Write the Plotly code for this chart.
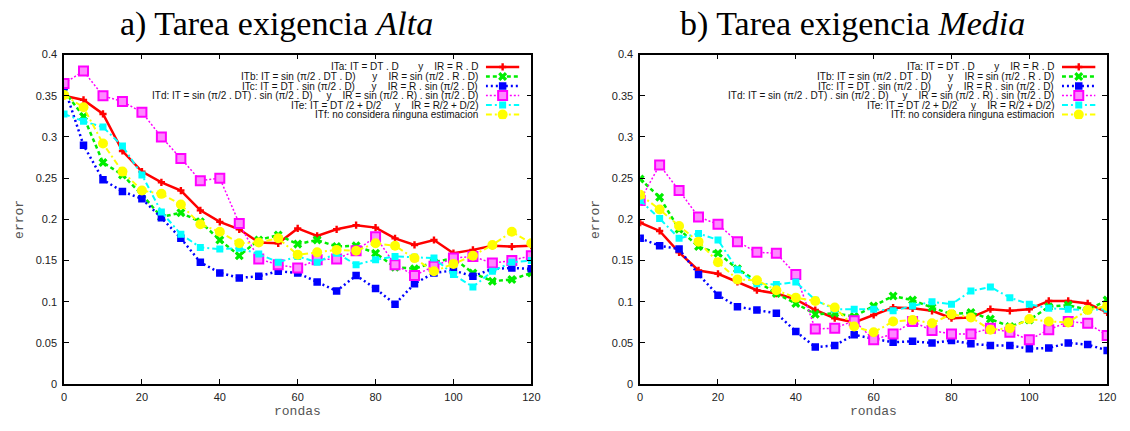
import plotly.graph_objects as go

W, H = 1130, 431

rondas = list(range(0, 121, 5))
x_ticks = [0, 20, 40, 60, 80, 100, 120]
y_ticks = [0, 0.05, 0.1, 0.15, 0.2, 0.25, 0.3, 0.35, 0.4]

# Tarea exigencia Alta
alta_ita = [0.350, 0.345, 0.328, 0.283, 0.258, 0.245, 0.235, 0.211, 0.197, 0.188, 0.172, 0.171, 0.189,
            0.180, 0.188, 0.193, 0.190, 0.177, 0.169, 0.175, 0.159, 0.163, 0.168, 0.167, 0.168]
alta_itb = [0.356, 0.325, 0.269, 0.254, 0.230, 0.203, 0.208, 0.197, 0.175, 0.156, 0.175, 0.181, 0.170,
            0.175, 0.167, 0.168, 0.159, 0.142, 0.140, 0.148, 0.153, 0.135, 0.125, 0.127, 0.135]
alta_itc = [0.361, 0.290, 0.248, 0.234, 0.225, 0.202, 0.177, 0.148, 0.135, 0.129, 0.131, 0.137, 0.135,
            0.124, 0.113, 0.132, 0.116, 0.097, 0.122, 0.135, 0.138, 0.131, 0.140, 0.141, 0.140]
alta_itd = [0.365, 0.380, 0.350, 0.343, 0.330, 0.300, 0.274, 0.247, 0.250, 0.195, 0.152, 0.145, 0.141,
            0.151, 0.152, 0.162, 0.179, 0.145, 0.132, 0.143, 0.153, 0.155, 0.147, 0.150, 0.156]
alta_ite = [0.328, 0.319, 0.312, 0.289, 0.254, 0.209, 0.182, 0.166, 0.164, 0.165, 0.158, 0.148, 0.155,
            0.148, 0.159, 0.145, 0.151, 0.155, 0.154, 0.153, 0.133, 0.118, 0.137, 0.148, 0.150]
alta_itf = [0.351, 0.336, 0.292, 0.258, 0.235, 0.231, 0.218, 0.194, 0.185, 0.171, 0.172, 0.177, 0.157,
            0.160, 0.163, 0.162, 0.171, 0.168, 0.153, 0.137, 0.146, 0.156, 0.169, 0.185, 0.171]

# Tarea exigencia Media
media_ita = [0.196, 0.186, 0.160, 0.138, 0.134, 0.124, 0.114, 0.110, 0.103, 0.090, 0.080, 0.075, 0.084,
             0.093, 0.092, 0.089, 0.080, 0.081, 0.091, 0.089, 0.091, 0.101, 0.101, 0.098, 0.087]
media_itb = [0.249, 0.227, 0.188, 0.167, 0.159, 0.140, 0.125, 0.110, 0.098, 0.085, 0.086, 0.082, 0.095,
             0.107, 0.102, 0.093, 0.085, 0.087, 0.079, 0.070, 0.078, 0.094, 0.096, 0.090, 0.102]
media_itc = [0.177, 0.168, 0.164, 0.133, 0.108, 0.094, 0.090, 0.086, 0.064, 0.045, 0.047, 0.060, 0.055,
             0.051, 0.052, 0.050, 0.053, 0.049, 0.047, 0.047, 0.043, 0.044, 0.050, 0.048, 0.041]
media_itd = [0.223, 0.266, 0.235, 0.203, 0.194, 0.173, 0.160, 0.159, 0.133, 0.067, 0.068, 0.077, 0.054,
             0.061, 0.076, 0.065, 0.061, 0.061, 0.068, 0.063, 0.054, 0.066, 0.076, 0.074, 0.059]
media_ite = [0.223, 0.201, 0.177, 0.183, 0.175, 0.139, 0.122, 0.121, 0.124, 0.102, 0.091, 0.091, 0.091,
             0.089, 0.095, 0.100, 0.097, 0.113, 0.118, 0.105, 0.097, 0.092, 0.091, 0.090, 0.091]
media_itf = [0.230, 0.212, 0.192, 0.173, 0.148, 0.127, 0.126, 0.114, 0.105, 0.101, 0.093, 0.070, 0.063,
             0.076, 0.078, 0.074, 0.085, 0.081, 0.066, 0.068, 0.079, 0.076, 0.075, 0.090, 0.095]

NB = "\u00a0"
legend_labels = [
    "ITa: IT = DT . D" + NB * 7 + "y" + NB * 4 + "IR = R . D",
    "ITb: IT = sin (\u03c0/2 . DT . D)" + NB * 6 + "y" + NB * 4 + "IR = sin (\u03c0/2 . R . D)",
    "ITc: IT = DT . sin (\u03c0/2 . D)" + NB * 6 + "y" + NB * 4 + "IR = R . sin (\u03c0/2 . D)",
    "ITd: IT = sin (\u03c0/2 . DT) . sin (\u03c0/2 . D)" + NB * 5 + "y" + NB * 4 + "IR = sin (\u03c0/2 . R) . sin (\u03c0/2 . D)",
    "ITe: IT = DT /2 + D/2" + NB * 5 + "y" + NB * 4 + "IR = R/2 + D/2)",
    "ITf: no considera ninguna estimacion",
]

titles = ["a) Tarea exigencia <i>Alta</i>", "b) Tarea exigencia <i>Media</i>"]

# line / marker style for each series
styles = [
    dict(line=dict(color="#ff0000", width=2.5, dash="solid"),
         marker=dict(symbol="cross", size=6, color="#ff0000")),
    dict(line=dict(color="#00ee00", width=2.5, dash="4px,3px"),
         marker=dict(symbol="x", size=8, color="#00ee00")),
    dict(line=dict(color="#0000ff", width=2.5, dash="2px,3px"),
         marker=dict(symbol="square", size=6, color="#0000ff",
                     line=dict(color="#0000ff", width=1.5))),
    dict(line=dict(color="#ff00ff", width=1.5, dash="2px,2px"),
         marker=dict(symbol="square", size=9, color="#ff88ff",
                     line=dict(color="#ff00ff", width=2))),
    dict(line=dict(color="#00ffff", width=2, dash="6px,3px,2px,3px"),
         marker=dict(symbol="square", size=7, color="#00ffff")),
    dict(line=dict(color="#ffff00", width=2, dash="6px,3px,2px,3px"),
         marker=dict(symbol="circle", size=10, color="#ffff00")),
]

panels = [
    [alta_ita, alta_itb, alta_itc, alta_itd, alta_ite, alta_itf],
    [media_ita, media_itb, media_itc, media_itd, media_ite, media_itf],
]

# pixel geometry of the two plot frames
plot_left = [61.7, 644.0]
plot_right = [534.0, 1116.0]
plot_top, plot_bottom = 50.0, 389.0

fig = go.Figure()

axis_font = dict(family="Liberation Sans, Arial, sans-serif", size=11, color="#222222")
annotations = []

for p, series in enumerate(panels):
    xa = "x" if p == 0 else "x2"
    ya = "y" if p == 0 else "y2"
    for vals, st in zip(series, styles):
        fig.add_trace(go.Scatter(
            x=rondas, y=vals, mode="lines+markers",
            line=st["line"], marker=st["marker"],
            xaxis=xa, yaxis=ya, showlegend=False, hoverinfo="skip",
        ))

    dom_x = [plot_left[p] / W, plot_right[p] / W]
    dom_y = [1 - plot_bottom / H, 1 - plot_top / H]
    common = dict(showline=True, linecolor="black", linewidth=1.5, mirror="allticks",
                  ticks="inside", ticklen=5, tickcolor="black", tickwidth=1,
                  showgrid=False, zeroline=False, tickfont=axis_font)
    xkey = "xaxis" if p == 0 else "xaxis2"
    ykey = "yaxis" if p == 0 else "yaxis2"
    fig.update_layout(**{
        xkey: dict(domain=dom_x, range=[0, 120], tickmode="array", tickvals=x_ticks,
                   anchor=ya, ticklabelstandoff=2, **common),
        ykey: dict(domain=dom_y, range=[0, 0.4], tickmode="array", tickvals=y_ticks,
                   anchor=xa, ticklabelstandoff=3, **common),
    })

    # legend samples drawn on a small overlay axis pair
    shift = plot_left[p] - plot_left[0]
    lx0 = (488.0 + shift) / W
    lx1 = (522.0 + shift) / W
    row0, row_step = 62.7, 9.8
    ly_top = 1 - (row0 - row_step / 2) / H
    ly_bot = 1 - (row0 + row_step * 5.5) / H
    lxn = 3 + 2 * p
    lyn = 4 + 2 * p
    fig.update_layout(**{
        f"xaxis{lxn}": dict(domain=[lx0, lx1], range=[0, 1], visible=False,
                            anchor=f"y{lyn}", fixedrange=True),
        f"yaxis{lyn}": dict(domain=[ly_bot, ly_top], range=[5.5, -0.5], visible=False,
                            anchor=f"x{lxn}", fixedrange=True),
    })
    for i, st in enumerate(styles):
        fig.add_trace(go.Scatter(x=[0, 1], y=[i, i], mode="lines", line=st["line"],
                                 xaxis=f"x{lxn}", yaxis=f"y{lyn}",
                                 showlegend=False, hoverinfo="skip"))
        fig.add_trace(go.Scatter(x=[0.5], y=[i], mode="markers", marker=st["marker"],
                                 xaxis=f"x{lxn}", yaxis=f"y{lyn}",
                                 showlegend=False, hoverinfo="skip"))
        annotations.append(dict(
            x=(481.7 + shift) / W, y=1 - (row0 + row_step * i) / H,
            xref="paper", yref="paper", xanchor="right", yanchor="middle",
            text=legend_labels[i], showarrow=False,
            font=dict(family="Liberation Sans, Arial, sans-serif", size=10, color="#111111"),
        ))

    # titles and axis labels
    cx = (plot_left[p] + plot_right[p]) / 2
    annotations.append(dict(
        x=(cx - 21) / W, y=1 - 19 / H, xref="paper", yref="paper",
        xanchor="center", yanchor="middle", text=titles[p], showarrow=False,
        font=dict(family="Liberation Serif, Times New Roman, serif", size=34, color="#000000"),
    ))
    annotations.append(dict(
        x=cx / W, y=1 - 417 / H, xref="paper", yref="paper",
        xanchor="center", yanchor="middle", text="rondas", showarrow=False,
        font=dict(family="Liberation Mono, Courier New, monospace", size=13, color="#555555"),
    ))
    annotations.append(dict(
        x=(plot_left[p] - 44.5) / W, y=1 - 220 / H, xref="paper", yref="paper",
        xanchor="center", yanchor="middle", text="error", textangle=-90, showarrow=False,
        font=dict(family="Liberation Mono, Courier New, monospace", size=13, color="#555555"),
    ))

fig.update_layout(
    width=W, height=H, margin=dict(l=0, r=0, t=0, b=0),
    paper_bgcolor="white", plot_bgcolor="white",
    annotations=annotations, showlegend=False,
)

# page body without default spacing so the figure fills the window exactly
fig.write_html(
    "out.html",
    config={"displayModeBar": False},
    post_script="document.body.style.margin='0';document.body.style.padding='0';",
)
